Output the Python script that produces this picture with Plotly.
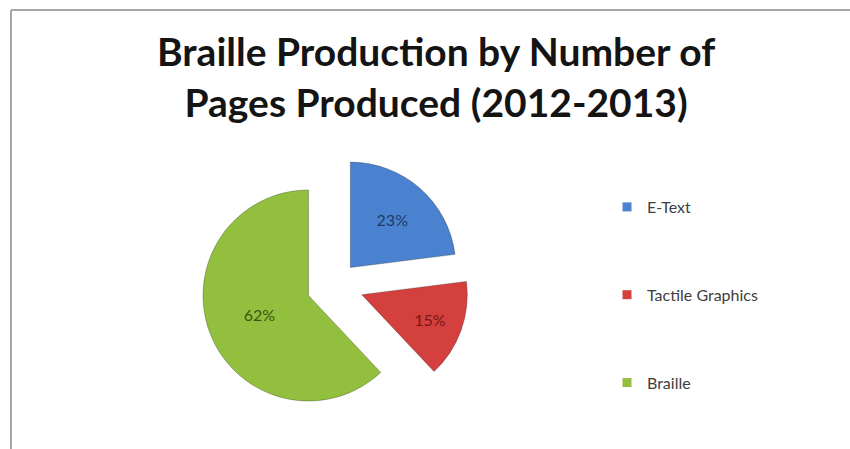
import plotly.graph_objects as go

categories = ["E-Text", "Tactile Graphics", "Braille"]
values = [23, 15, 62]
colors = ["#4a82cf", "#d3403d", "#92bf3e"]
text_colors = ["#1d3a66", "#7a1614", "#3b5512"]
pulls = [0.22, 0.27, 0.27]

fig = go.Figure()
fig.add_trace(go.Pie(
    labels=categories, values=values, sort=False, direction="clockwise",
    rotation=0, pull=pulls,
    marker=dict(colors=colors, line=dict(color="rgba(0,0,0,0.25)", width=1)),
    textinfo="percent", textposition="inside", insidetextorientation="horizontal",
    textfont=dict(family="Lato", size=16, color=text_colors),
    showlegend=False,
    domain=dict(x=[201/850, 469/850], y=[1-419/449, 1-151/449]),
))
for c, col in zip(categories, colors):
    fig.add_trace(go.Scatter(
        x=[None], y=[None], mode="markers", name=c, legendgroup=c,
        marker=dict(symbol="square", size=9, color=col),
    ))

fig.update_layout(
    width=850, height=449, margin=dict(l=0, r=0, t=0, b=0),
    paper_bgcolor="white", plot_bgcolor="white",
    annotations=[dict(
        text="<b>Braille Production by Number of<br>Pages Produced (2012-2013)</b>",
        xref="paper", yref="paper", x=436/850, y=1-76/449, xanchor="center", yanchor="middle",
        showarrow=False, font=dict(family="Lato", size=39, color="#141414"))],
    xaxis=dict(visible=False), yaxis=dict(visible=False),
    legend=dict(x=607/850, y=1-190/449, xanchor="left", yanchor="top",
                font=dict(family="Lato", size=16, color="#404040"),
                tracegroupgap=64, itemwidth=30, bgcolor="rgba(0,0,0,0)"),
    shapes=[
        dict(type="line", xref="paper", yref="paper", x0=11/850, x1=11/850, y0=0, y1=1-10/449,
             line=dict(color="#a8a8a8", width=2)),
        dict(type="line", xref="paper", yref="paper", x0=11/850, x1=1, y0=1-10/449, y1=1-10/449,
             line=dict(color="#a8a8a8", width=2)),
    ],
)
fig.write_html("out.html")
